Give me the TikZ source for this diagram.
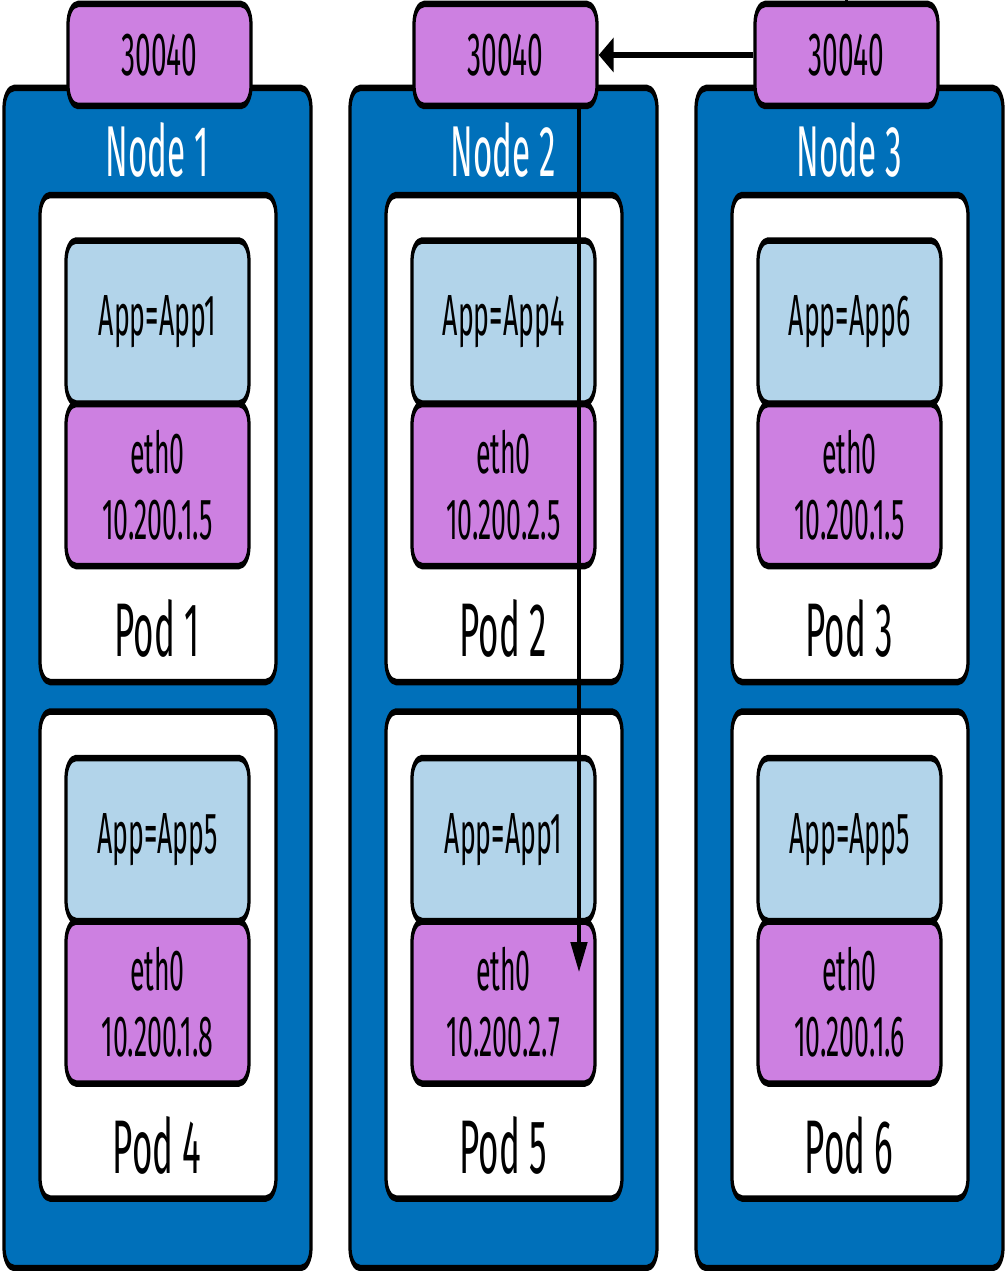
\documentclass[tikz,border=0pt]{standalone}
\usepackage{fontspec}
\setmainfont[FakeStretch=0.92]{Fira Sans}
\usetikzlibrary{arrows.meta,calc}
\definecolor{nodeblue}{RGB}{0,112,186}
\definecolor{portpurple}{RGB}{205,128,225}
\definecolor{applight}{RGB}{178,212,234}
\tikzset{
  box/.style={draw=black,line width=6.5pt,rounded corners=20pt,inner sep=0pt},
  hostbox/.style={box,fill=nodeblue,minimum width=614pt,minimum height=1180pt},
  portbox/.style={box,fill=portpurple,minimum width=366pt,minimum height=102pt,font=\fontsize{61}{61}\selectfont},
  podbox/.style={box,fill=white,minimum width=472pt,minimum height=487pt},
  appbox/.style={box,fill=applight,minimum width=366pt,minimum height=163pt,font=\fontsize{58}{58}\selectfont},
  ethbox/.style={box,fill=portpurple,minimum width=366pt,minimum height=162pt,align=center,font=\fontsize{58}{66}\selectfont},
  hostlabel/.style={text=white,font=\fontsize{72}{72}\selectfont,inner sep=0pt},
  podlabel/.style={font=\fontsize{76}{76}\selectfont,inner sep=0pt},
  arr/.style={draw=black,line width=6.5pt,-{Triangle[length=30pt,width=33pt]}}
}
\begin{document}
\begin{tikzpicture}[x=1pt,y=-1pt]
\useasboundingbox (0,0) rectangle (1008,1271);
\begin{scope}[transform canvas={xscale=0.5},x=2pt]
\foreach \i/\off/\poff/\appa/\ipa/\appb/\ipb/\pa/\pb in {
  1/0/0/App1/10.200.1.5/App5/10.200.1.8/1/4,
  2/346/346/App4/10.200.2.5/App1/10.200.2.7/2/5,
  3/692/687/App6/10.200.1.5/App5/10.200.1.6/3/6}{
  \node[hostbox] (host\i) at (157.5+\off,678) {};
  \node[hostlabel] (hostl\i) at (157+\off,150) {Node \i};
  \node[podbox] (pod\pa) at (158+\off,438.5) {};
  \node[appbox] (app\pa) at (157.5+\off,322) {App=\appa};
  \node[ethbox] (eth\pa) at (157.5+\off,485) {eth0\\\ipa};
  \node[podlabel] (podl\pa) at (157+\off,628) {Pod \pa};
  \node[podbox] (pod\pb) at (158+\off,955) {};
  \node[appbox] (app\pb) at (157.5+\off,839.5) {App=\appb};
  \node[ethbox] (eth\pb) at (157.5+\off,1002.5) {eth0\\\ipb};
  \node[podlabel] (podl\pb) at (157+\off,1145) {Pod \pb};
  \node[portbox] (port\i) at (159.5+\poff,55) {30040};
}
\coordinate (top3) at ($(port3.north)+(0,-10)$);
\coordinate (tip) at (579,972);
\draw[line width=6.5pt] (top3) -- (port3.north);
\draw[arr] (port3.west) -- (port2.east);
\draw[arr] (port2.south -| tip) -- (tip);
\end{scope}
\end{tikzpicture}
\end{document}
